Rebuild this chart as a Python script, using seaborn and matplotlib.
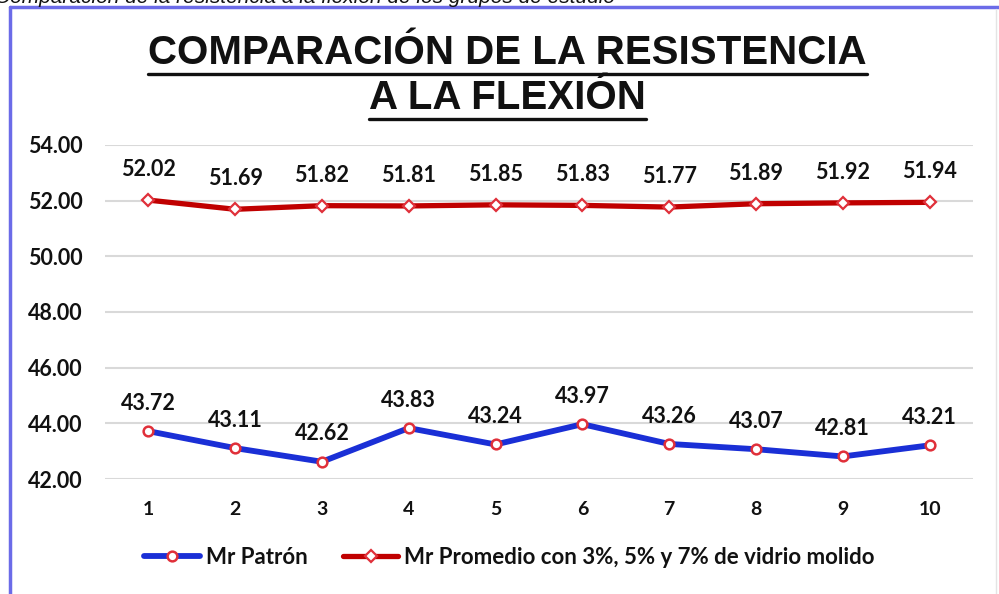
import numpy as np
import pandas as pd
import matplotlib
matplotlib.use('Agg')
import matplotlib.pyplot as plt
from matplotlib.lines import Line2D
import seaborn as sns

# data
ensayos = [1, 2, 3, 4, 5, 6, 7, 8, 9, 10]
mr_patron = [43.72, 43.11, 42.62, 43.83, 43.24, 43.97, 43.26, 43.07, 42.81, 43.21]
mr_promedio = [52.02, 51.69, 51.82, 51.81, 51.85, 51.83, 51.77, 51.89, 51.92, 51.94]
y_ticks = [42, 44, 46, 48, 50, 52, 54]

nombre_patron = 'Mr Patrón'
nombre_promedio = 'Mr Promedio con 3%, 5% y 7% de vidrio molido'

sns.set_theme(style='white')
plt.rcParams['font.family'] = ['Lato', 'DejaVu Sans']

fig = plt.figure(figsize=(9.99, 5.94), dpi=100)
ax = fig.add_axes([0.105, 0.1936, 0.869, 0.5623])

df = pd.DataFrame({'ensayo': ensayos, 'patron': mr_patron, 'promedio': mr_promedio})

sns.lineplot(data=df, x='ensayo', y='patron', ax=ax, color='#1a2fd6', lw=4.2,
             marker='o', markersize=7, markerfacecolor='white',
             markeredgecolor='#e0303a', markeredgewidth=1.8, label=nombre_patron)
sns.lineplot(data=df, x='ensayo', y='promedio', ax=ax, color='#c00000', lw=3.8,
             marker='D', markersize=6, markerfacecolor='white',
             markeredgecolor='#e0303a', markeredgewidth=1.6, label=nombre_promedio)

# data labels
for x, y in zip(ensayos, mr_patron):
    ax.annotate(f'{y:.2f}', (x, y), xytext=(0, 20), textcoords='offset points',
                ha='center', va='center', fontsize=15.5, fontweight='bold', color='#111111')
for x, y in zip(ensayos, mr_promedio):
    ax.annotate(f'{y:.2f}', (x, y), xytext=(0, 22), textcoords='offset points',
                ha='center', va='center', fontsize=15.5, fontweight='bold', color='#111111')

ax.set_xlim(0.5, 10.5)
ax.set_ylim(42, 54)
ax.set_yticks(y_ticks)
ax.set_yticklabels([f'{v:.2f}' for v in y_ticks], fontsize=15.5, fontweight='bold', color='#111111')
ax.set_xticks(ensayos)
ax.set_xticklabels([str(e) for e in ensayos], fontsize=14, fontweight='bold', color='#111111')
ax.tick_params(axis='y', length=0, pad=16)
ax.tick_params(axis='x', length=0, pad=16)
ax.set_xlabel('')
ax.set_ylabel('')
ax.grid(axis='y', color='#d9d9d9', lw=1.5)
for s in ax.spines.values():
    s.set_visible(False)

leg = ax.legend(loc='center', bbox_to_anchor=(0.51, 0.061), bbox_transform=fig.transFigure,
                ncol=2, frameon=False, handlelength=2.5, columnspacing=1.6, handletextpad=0.25,
                prop={'size': 16, 'weight': 'bold'})
for t in leg.get_texts():
    t.set_color('#111111')

# title with underline
t1 = fig.text(0.508, 0.911, 'COMPARACIÓN DE LA RESISTENCIA', ha='center', va='center',
              fontsize=29, fontweight='bold', family='Liberation Sans', color='#111111')
t2 = fig.text(0.508, 0.835, 'A LA FLEXIÓN', ha='center', va='center',
              fontsize=29, fontweight='bold', family='Liberation Sans', color='#111111')

# cropped caption at the very top
fig.text(-0.005, 1.005, 'Comparación de la resistencia a la flexión de los grupos de estudio',
         ha='left', va='center', fontsize=15, style='italic', family='Liberation Sans',
         color='#111111')

fig.canvas.draw()
r = fig.canvas.get_renderer()
inv = fig.transFigure.inverted()
for t in (t1, t2):
    bb = t.get_window_extent(r).transformed(inv)
    y0 = bb.y0 - 0.004
    fig.add_artist(Line2D([bb.x0, bb.x1], [y0, y0], transform=fig.transFigure,
                          color='#111111', lw=2.4))

# chart frame border
fig.add_artist(Line2D([0.0105, 1.0], [0.988, 0.988], transform=fig.transFigure,
                      color='#6b6be8', lw=2.5))
fig.add_artist(Line2D([0.0105, 0.0105], [0.0, 0.988], transform=fig.transFigure,
                      color='#6b6be8', lw=2.5))
fig.add_artist(Line2D([0.997, 0.997], [0.0, 0.985], transform=fig.transFigure,
                      color='#e4e4e4', lw=1))

fig.savefig('out.png', dpi=100)
